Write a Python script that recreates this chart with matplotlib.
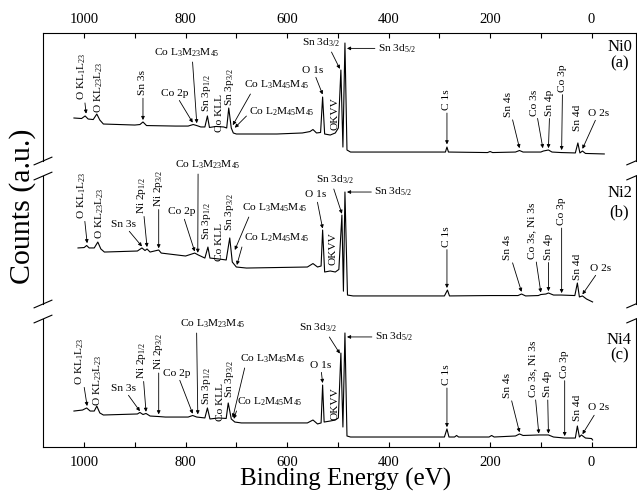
import matplotlib
matplotlib.use("Agg")
import matplotlib.pyplot as plt

plt.rcParams["font.family"] = "Liberation Serif"
plt.rcParams["mathtext.default"] = "regular"

# XPS survey spectra, binding energy (eV) vs counts (a.u., per-panel scale)
be_ni0 = [1020, 1005, 998, 992, 982, 975, 969, 962, 900, 890, 884, 877,
          820, 795, 785, 778, 770, 762, 757, 753, 740, 725, 719, 715, 710,
          706, 700, 620, 570, 555, 549, 542, 534, 530, 526, 515, 505, 499,
          494, 490, 486, 482, 475, 300, 288, 285, 282, 205, 200, 195, 150,
          142, 135, 100, 95, 85, 78, 60, 32, 27, 23, 18, 12, -25]
cts_ni0 = [33.6, 33.2, 35.2, 32.8, 32.4, 36.7, 32.0, 28.9, 28.1, 28.5, 30.5, 27.7,
           27.3, 27.3, 28.5, 27.7, 26.6, 26.6, 35.2, 26.2, 27.0, 26.6, 25.8, 41.4, 25.8,
           21.9, 21.1, 21.1, 21.9, 23.0, 24.6, 21.9, 22.3, 50.0, 21.1, 20.3, 21.9, 25.8,
           71.1, 10.9, 92.2, 8.6, 7.0, 7.0, 7.0, 10.9, 7.0, 6.6, 7.4, 6.6, 7.0,
           8.2, 7.0, 7.0, 7.8, 8.6, 7.0, 6.6, 6.3, 14.1, 6.3, 7.8, 5.9, 5.5]

be_ni2 = [1012, 1000, 995, 990, 980, 973, 967, 960, 895, 886, 880, 876, 870,
          853, 848, 800, 782, 775, 762, 756, 752, 735, 720, 713, 708, 700,
          680, 560, 549, 540, 533, 530, 526, 515, 505, 498, 492, 489, 486,
          481, 470, 290, 284, 280, 200, 145, 138, 130, 105, 100, 90, 85, 75,
          60, 33, 28, 24, 18, 10, -2]
cts_ni2 = [43.8, 44.1, 45.7, 43.8, 43.8, 48.4, 43.0, 40.6, 41.4, 43.8, 41.8, 43.0, 40.6,
           42.2, 39.8, 37.5, 39.8, 38.3, 35.9, 44.5, 35.9, 35.2, 34.4, 51.6, 32.8, 28.9,
           28.1, 28.9, 31.6, 28.9, 29.7, 57.8, 25.0, 25.8, 25.0, 27.0, 69.5, 10.0, 87.5,
           7.0, 6.3, 6.3, 10.9, 6.3, 6.6, 6.6, 7.8, 6.3, 6.6, 7.4, 7.8, 8.6, 7.0,
           7.0, 6.6, 16.4, 5.5, 6.3, 3.9, 1.6]

be_ni4 = [1020, 1003, 995, 988, 980, 975, 969, 962, 895, 890, 884, 878, 870,
          853, 840, 795, 786, 778, 762, 757, 752, 735, 720, 716, 710, 703,
          690, 560, 549, 540, 533, 530, 527, 515, 505, 499, 494, 490, 486,
          482, 475, 290, 285, 281, 270, 266, 262, 202, 197, 192, 150, 142,
          135, 104, 85, 75, 53, 32, 28, 24, 20, 12, 0, -2]
cts_ni4 = [28.1, 28.9, 30.5, 28.1, 28.1, 32.0, 26.6, 25.0, 25.8, 27.0, 25.4, 26.2, 24.2,
           23.8, 23.4, 23.4, 24.6, 23.4, 22.7, 30.5, 21.9, 22.7, 22.3, 34.4, 21.9, 19.5,
           18.8, 18.8, 21.1, 18.0, 18.8, 48.4, 19.5, 20.3, 21.1, 22.7, 73.4, 15.6, 89.1,
           8.6, 7.8, 7.8, 14.1, 7.8, 7.8, 9.0, 7.8, 7.8, 9.0, 7.8, 8.6, 10.2,
           9.0, 9.4, 9.4, 7.8, 7.0, 7.0, 16.4, 7.8, 9.4, 7.0, 6.6, 5.5]

samples = ["Ni0", "Ni2", "Ni4"]
panel_tags = ["(a)", "(b)", "(c)"]

# peak labels: (text, text BE, text y, arrow BE, arrow y, rotation[, arrow start relpos])
peaks_ni0 = [
    ("O KL$_1$L$_{23}$", 1004, 66, 996, 37, 90),
    ("O KL$_{23}$L$_{23}$", 971, 57.4, None, None, 90),
    ("Sn 3s", 884, 61, 884, 32, 90),
    ("Co L$_3$M$_{23}$M$_{45}$", 797, 84.4, 778, 29.5, 0, (0.58, 0)),
    ("Co 2p", 821, 53, 786, 30, 0),
    ("Sn 3p$_{1/2}$", 759, 53.5, None, None, 90),
    ("Co KLL", 733, 37.9, None, None, 90),
    ("Sn 3p$_{3/2}$", 713, 58.2, None, None, 90),
    ("Co L$_3$M$_{45}$M$_{45}$", 620, 59.4, 707, 28, 0, (0.12, 0)),
    ("Co L$_2$M$_{45}$M$_{45}$", 610, 38.3, 703, 26, 0, (0, 0.4)),
    ("O 1s", 549, 71.1, 530, 52, 0),
    ("Sn 3d$_{3/2}$", 534, 92.2, 496, 72, 0, (0.75, 0)),
    ("OKVV", 506, 36.7, None, None, 90),
    ("Sn 3d$_{5/2}$", 384, 88, 482, 88, 0),
    ("C 1s", 285, 47.7, 285, 13, 90),
    ("Sn 4s", 163, 44.1, 142, 10, 90),
    ("Co 3s", 112, 45.7, 96, 10, 90),
    ("Sn 4p", 82, 45.7, 85, 10, 90),
    ("Co 3p", 57, 64.8, 59, 8.5, 90),
    ("Sn 4d", 28, 34, None, None, 90),
    ("O 2s", -14, 37.5, 18, 9.5, 0),
]
peaks_ni2 = [
    ("O KL$_1$L$_{23}$", 1004, 85.2, 994, 47.5, 90),
    ("O KL$_{23}$L$_{23}$", 969, 71.1, None, None, 90),
    ("Sn 3s", 923, 62.5, 886, 45, 0),
    ("Ni 2p$_{1/2}$", 886, 85.2, 876, 44.5, 90),
    ("Ni 2p$_{3/2}$", 853, 90.6, 853, 43.5, 90),
    ("Co L$_3$M$_{23}$M$_{45}$", 756, 108.6, 776, 40, 0, (0.35, 0)),
    ("Co 2p", 807, 71.9, 782, 41, 0),
    ("Sn 3p$_{1/2}$", 759, 64.5, None, None, 90),
    ("Co KLL", 733, 48.4, None, None, 90),
    ("Sn 3p$_{3/2}$", 713, 72.3, None, None, 90),
    ("Co L$_3$M$_{45}$M$_{45}$", 624, 75, 703, 42.2, 0, (0.12, 0)),
    ("Co L$_2$M$_{45}$M$_{45}$", 620, 51.6, 699, 30.5, 0, (0, 0.4)),
    ("O 1s", 543, 85.2, 530, 59, 0),
    ("Sn 3d$_{3/2}$", 506, 96.9, 492, 70.5, 0, (0.45, 0)),
    ("OKVV", 510, 43.4, None, None, 90),
    ("Sn 3d$_{5/2}$", 391, 87.5, 482, 87.5, 0),
    ("C 1s", 285, 52.7, 285, 12.5, 90),
    ("Sn 4s", 165, 44.1, 138, 9.5, 90),
    ("Co 3s, Ni 3s", 118, 57, 100, 9, 90),
    ("Sn 4p", 85, 44.9, 85, 10, 90),
    ("Co 3p", 59, 72.3, 59, 8.5, 90),
    ("Sn 4d", 28, 29.3, None, None, 90),
    ("O 2s", -18, 28.1, 18, 7.5, 0),
]
peaks_ni4 = [
    ("Co L$_3$M$_{23}$M$_{45}$", 746, 96.1, 776, 25.5, 0, (0.25, 0)),
    ("O KL$_1$L$_{23}$", 1008, 67.2, 994, 32, 90),
    ("O KL$_{23}$L$_{23}$", 973, 52.3, None, None, 90),
    ("Sn 3s", 923, 46.1, 890, 28, 0),
    ("Ni 2p$_{1/2}$", 886, 68, 878, 27.5, 90),
    ("Ni 2p$_{3/2}$", 853, 74.6, 853, 25.5, 90),
    ("Co 2p", 817, 57.8, 786, 26, 0),
    ("Sn 3p$_{1/2}$", 759, 48, None, None, 90),
    ("Co KLL", 732, 35.2, None, None, 90),
    ("Sn 3p$_{3/2}$", 713, 53.5, None, None, 90),
    ("Co L$_3$M$_{45}$M$_{45}$", 628, 68.8, 707, 23, 0, (0.08, 0)),
    ("Co L$_2$M$_{45}$M$_{45}$", 634, 35.2, 705, 22, 0, (0.02, 0.2)),
    ("O 1s", 534, 64, 530, 50, 0),
    ("Sn 3d$_{3/2}$", 539, 93, 496, 73, 0, (0.75, 0)),
    ("OKVV", 506, 34, None, None, 90),
    ("Sn 3d$_{5/2}$", 390, 86, 482, 86, 0),
    ("C 1s", 285, 56.3, 285, 15.5, 90),
    ("Sn 4s", 165, 48, 142, 11.5, 90),
    ("Co 3s, Ni 3s", 116, 61, 104, 10.5, 90),
    ("Sn 4p", 87, 49.2, 85, 10.5, 90),
    ("Co 3p", 53, 64.8, 53, 8.5, 90),
    ("Sn 4d", 28, 30.9, None, None, 90),
    ("O 2s", -14, 30.5, 18, 10, 0),
]

# sample name / tag heights per panel
tag_y = [(89, 76.6), (86.7, 71.9), (83.6, 71.9)]

spectra = [(be_ni0, cts_ni0, peaks_ni0),
           (be_ni2, cts_ni2, peaks_ni2),
           (be_ni4, cts_ni4, peaks_ni4)]

fig = plt.figure(figsize=(6.37, 4.96), dpi=100)
left, width, height = 0.0675, 0.9305, 0.258
bottoms = [0.6754, 0.3871, 0.0988]


def label_peaks(ax, peaks):
    for item in peaks:
        text, tx, ty, px, py, rot = item[:6]
        rel = item[6] if len(item) > 6 else (0.5, 0.5)
        kw = dict(fontsize=8.2, rotation=rot, ha="center", va="center",
                  rotation_mode="anchor")
        if px is None:
            ax.text(tx, ty, text, clip_on=False, **kw)
        else:
            ax.annotate(text, xy=(px, py), xytext=(tx, ty), annotation_clip=False,
                        arrowprops=dict(arrowstyle="-|>", color="black", lw=0.6,
                                        mutation_scale=5, shrinkA=0, shrinkB=0,
                                        relpos=rel),
                        **kw)


def break_marks(ax, ys):
    dx, dy = 0.015, 0.03
    for x in (0, 1):
        for y in ys:
            ax.plot([x - dx, x + dx], [y - dy, y + dy], color="black", lw=0.8,
                    transform=ax.transAxes, clip_on=False)


axes = []
for i, (be, cts, peaks) in enumerate(spectra):
    ax = fig.add_axes([left, bottoms[i], width, height])
    ax.plot(be, cts, color="black", lw=0.8)
    ax.set_xlim(1081, -87)
    ax.set_ylim(0, 100)
    ax.set_yticks([])
    for s in ax.spines.values():
        s.set_linewidth(0.8)
    label_peaks(ax, peaks)
    ax.text(-55, tag_y[i][0], samples[i], fontsize=12, ha="center", va="center")
    ax.text(-55, tag_y[i][1], panel_tags[i], fontsize=12, ha="center", va="center")
    axes.append(ax)

ax_a, ax_b, ax_c = axes
ax_a.spines["bottom"].set_visible(False)
ax_b.spines["top"].set_visible(False)
ax_b.spines["bottom"].set_visible(False)
ax_c.spines["top"].set_visible(False)

for ax in axes:
    ax.set_xticks(range(0, 1001, 200))
    ax.set_xticks(range(100, 1000, 200), minor=True)

ax_a.tick_params(axis="x", which="both", direction="in", top=True, bottom=False,
                 labeltop=True, labelbottom=False, length=3.5, width=0.8,
                 pad=5, labelsize=10.5)
ax_b.tick_params(axis="x", which="both", top=False, bottom=False,
                 labeltop=False, labelbottom=False)
ax_c.tick_params(axis="x", which="both", direction="in", top=False, bottom=True,
                 labelbottom=True, length=3.5, width=0.8, pad=6.5, labelsize=10.5)

break_marks(ax_a, [0])
break_marks(ax_b, [0, 1])
break_marks(ax_c, [1])

fig.text(0.035, 0.585, "Counts (a.u.)", rotation=90, fontsize=21.5,
         ha="center", va="center")
fig.text(0.543, 0.034, "Binding Energy (eV)", fontsize=18,
         ha="center", va="center")

fig.savefig("out.png", dpi=100)
